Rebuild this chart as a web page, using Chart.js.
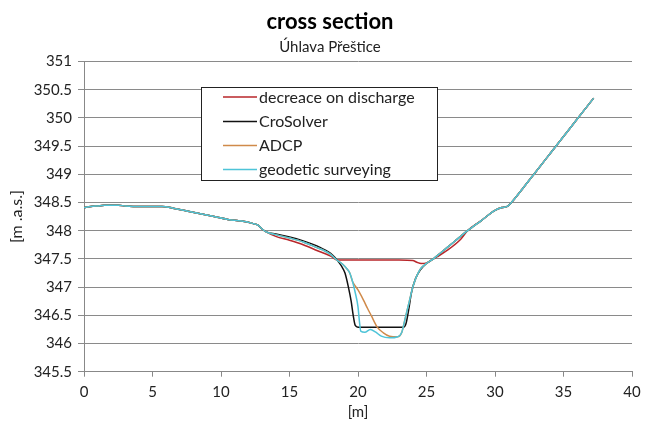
<!DOCTYPE html>
<html>
<head>
<meta charset="utf-8">
<title>cross section – Úhlava Přeštice</title>
<script src="https://cdn.jsdelivr.net/npm/chart.js@4/dist/chart.umd.min.js"></script>
<style>
  html, body { margin: 0; padding: 0; background: #fff; }
  #wrap { width: 654px; height: 423px; position: relative; }
</style>
</head>
<body>
<div id="wrap"><canvas id="c" width="654" height="423"></canvas></div>
<script>
// Station [m] and elevation [m a.s.] along the profile.
// Left floodplain, common to all four profiles.
const leftBankX = [0, 0.5, 1, 1.5, 2, 2.5, 3, 4, 5, 5.7, 6.5, 7.5, 8.5, 9.5, 10.5, 11.5, 12.3, 12.7, 13.0, 13.3];
const leftBankY = [348.41, 348.43, 348.44, 348.45, 348.45, 348.45, 348.44, 348.43, 348.43, 348.43, 348.40, 348.35, 348.30, 348.25, 348.20, 348.17, 348.13, 348.10, 348.03, 347.98];

// Right bank, common to all four profiles.
const rightBankX = [25.5, 26, 27, 28, 29, 30, 30.5, 30.9, 31.2, 32, 33, 34, 35, 36, 37.2];
const rightBankY = [347.50, 347.60, 347.80, 348.00, 348.18, 348.36, 348.41, 348.43, 348.50, 348.74, 349.05, 349.36, 349.67, 349.98, 350.35];

// Channel part of each profile.
const dischargeX = [14, 15, 16, 17, 18, 18.5, 19, 20, 21, 22, 23, 24, 24.3, 24.6, 25.0, 25.3, 25.8, 26.5, 27.5];
const dischargeY = [347.90, 347.83, 347.75, 347.65, 347.55, 347.48, 347.48, 347.48, 347.48, 347.48, 347.48, 347.47, 347.44, 347.42, 347.43, 347.47, 347.54, 347.65, 347.85];

const croSolverX = [14, 15, 16, 17, 17.5, 18, 18.3, 18.6, 18.85, 19.05, 19.3, 19.5, 19.65, 19.8, 20.0, 23.3, 23.5, 23.7, 23.9, 24.2, 24.6, 25.0];
const croSolverY = [347.94, 347.89, 347.82, 347.73, 347.67, 347.60, 347.53, 347.44, 347.35, 347.25, 347.00, 346.75, 346.50, 346.32, 346.29, 346.29, 346.35, 346.60, 346.90, 347.15, 347.32, 347.42];

const adcpX = [14, 15, 16, 17, 17.5, 18, 18.45, 18.9, 19.2, 19.4, 19.6, 19.8, 20.0, 20.4, 20.7, 21.0, 21.2, 21.4, 21.85, 22.3, 22.9, 23.2, 23.45, 23.7, 24.0, 24.5, 25.0];
const adcpY = [347.93, 347.87, 347.80, 347.70, 347.65, 347.58, 347.48, 347.40, 347.32, 347.25, 347.10, 347.02, 346.95, 346.77, 346.62, 346.48, 346.38, 346.29, 346.19, 346.13, 346.12, 346.20, 346.45, 346.70, 347.00, 347.30, 347.42];

const surveyX = [14, 15, 16, 17, 17.5, 18, 18.45, 18.9, 19.2, 19.4, 19.6, 19.8, 20.0, 20.1, 20.2, 20.5, 20.9, 21.3, 21.7, 22.3, 22.9, 23.2, 23.45, 23.7, 24.0, 24.5, 25.0];
const surveyY = [347.93, 347.87, 347.80, 347.70, 347.65, 347.58, 347.48, 347.40, 347.32, 347.25, 347.10, 346.90, 346.65, 346.40, 346.22, 346.20, 346.25, 346.20, 346.13, 346.10, 346.12, 346.20, 346.45, 346.70, 347.00, 347.30, 347.42];

const seriesNames = ['decreace on discharge', 'CroSolver', 'ADCP', 'geodetic surveying'];
const seriesColors = ['#b8262a', '#111111', '#d08a4a', '#4ec4d8'];

const chartTitle = 'cross section';
const chartSubtitle = 'Úhlava Přeštice';

const xTicks = { min: 0, max: 40, step: 5 };
const yTicks = { min: 345.5, max: 351, step: 0.5 };

// Join floodplain + channel + right bank into one {x, y} list.
function profile(midX, midY) {
  const pts = [];
  leftBankX.forEach((x, i) => pts.push({ x, y: leftBankY[i] }));
  midX.forEach((x, i) => pts.push({ x, y: midY[i] }));
  const lastX = midX[midX.length - 1];
  rightBankX.forEach((x, i) => { if (x > lastX) pts.push({ x, y: rightBankY[i] }); });
  return pts;
}

const profiles = [
  profile(dischargeX, dischargeY),
  profile(croSolverX, croSolverY),
  profile(adcpX, adcpY),
  profile(surveyX, surveyY)
];

const FONT = 'Lato, "Open Sans", sans-serif';

// Title and subtitle centred over the whole figure.
const headings = {
  id: 'headings',
  afterDraw(chart) {
    const ctx = chart.ctx;
    ctx.save();
    ctx.textAlign = 'center';
    ctx.textBaseline = 'middle';
    ctx.fillStyle = '#000';
    ctx.font = 'bold 22px ' + FONT;
    ctx.fillText(chartTitle, 330, 22);
    ctx.fillStyle = '#222';
    ctx.font = '15px ' + FONT;
    ctx.fillText(chartSubtitle, 330, 47);
    ctx.restore();
  }
};

// Boxed legend drawn inside the plot area.
const boxedLegend = {
  id: 'boxedLegend',
  afterDraw(chart) {
    const ctx = chart.ctx;
    const left = 201.5, top = 87.5, right = 437.5, bottom = 180.5;
    ctx.save();
    ctx.fillStyle = '#ffffff';
    ctx.fillRect(left, top, right - left, bottom - top);
    ctx.strokeStyle = '#222';
    ctx.lineWidth = 1;
    ctx.strokeRect(left, top, right - left, bottom - top);
    ctx.font = '16px ' + FONT;
    ctx.textBaseline = 'middle';
    ctx.textAlign = 'left';
    const rows = [97, 121.5, 145.5, 169.5];
    seriesNames.forEach((name, i) => {
      ctx.strokeStyle = seriesColors[i];
      ctx.lineWidth = 1.5;
      ctx.beginPath();
      ctx.moveTo(223, rows[i]);
      ctx.lineTo(257, rows[i]);
      ctx.stroke();
      ctx.fillStyle = '#222';
      ctx.fillText(name, 259, rows[i] + 0.5);
    });
    ctx.restore();
  }
};

Chart.defaults.font.family = FONT;
Chart.defaults.color = '#222';

new Chart(document.getElementById('c'), {
  type: 'scatter',
  data: {
    datasets: profiles.map((pts, i) => ({
      label: seriesNames[i],
      data: pts,
      showLine: true,
      borderColor: seriesColors[i],
      backgroundColor: seriesColors[i],
      borderWidth: 1.5,
      pointRadius: 0,
      pointHoverRadius: 0,
      cubicInterpolationMode: 'monotone',
      order: 3 - i
    }))
  },
  options: {
    responsive: false,
    animation: false,
    events: [],
    layout: { padding: { left: 0, right: 22, top: 61.5, bottom: 0 } },
    plugins: {
      legend: { display: false },
      tooltip: { enabled: false },
      title: { display: false },
      subtitle: { display: false }
    },
    scales: {
      x: {
        type: 'linear',
        min: xTicks.min,
        max: xTicks.max,
        afterFit(scale) { scale.height = 51.3; },
        ticks: { stepSize: xTicks.step, padding: 6, font: { size: 15 }, color: '#222', maxRotation: 0 },
        grid: { display: true, drawOnChartArea: false, drawTicks: true, tickLength: 5, color: '#888' },
        border: { display: true, color: '#888', width: 1 },
        title: { display: true, text: '[m]', font: { size: 15 }, color: '#222', padding: 2 }
      },
      y: {
        type: 'linear',
        min: yTicks.min,
        max: yTicks.max,
        afterFit(scale) { scale.width = 84; },
        ticks: {
          stepSize: yTicks.step,
          padding: 6,
          font: { size: 15 },
          color: '#222',
          callback: (v) => String(Number(v.toFixed(1)))
        },
        grid: { display: true, drawOnChartArea: true, drawTicks: true, tickLength: 6, color: '#8a8a8a', lineWidth: 1 },
        border: { display: true, color: '#888', width: 1 },
        title: { display: true, text: '[m .a.s.]', font: { size: 16 }, color: '#222', padding: 7 }
      }
    }
  },
  plugins: [headings, boxedLegend]
});
</script>
</body>
</html>
